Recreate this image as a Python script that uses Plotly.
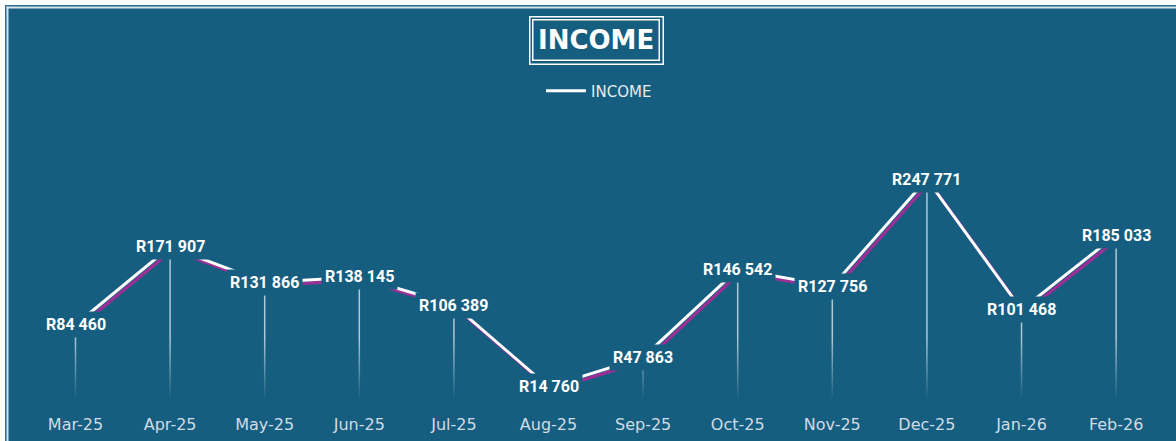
import plotly.graph_objects as go

months = ["Mar-25", "Apr-25", "May-25", "Jun-25", "Jul-25", "Aug-25",
          "Sep-25", "Oct-25", "Nov-25", "Dec-25", "Jan-26", "Feb-26"]
income = [84460, 171907, 131866, 138145, 106389, 14760,
          47863, 146542, 127756, 247771, 101468, 185033]
labels = ["R" + f"{v:,}".replace(",", " ") for v in income]

BLUE = "#165e80"
PURPLE = "#9c2f96"

X_RANGE = [-0.703, 11.633]
Y_RANGE = [0, 438800]
DXU = 0.027    # shadow offset (~2.5px) in category units
DYU = 3400     # shadow offset (~3px) in value units

fig = go.Figure()

# drop lines
fig.add_trace(go.Scatter(
    x=months, y=income, mode="markers",
    marker=dict(size=1, color="rgba(0,0,0,0)"),
    error_y=dict(type="data", symmetric=False, array=[0] * len(income),
                 arrayminus=income, color="rgba(225,236,243,0.75)",
                 thickness=1.5, width=0),
    showlegend=False, hoverinfo="skip"))

# fade band at the bottom of the drop lines
fig.add_trace(go.Scatter(
    x=[X_RANGE[0], X_RANGE[1], X_RANGE[1], X_RANGE[0], X_RANGE[0]],
    y=[0, 0, 70000, 70000, 0], mode="lines", line=dict(width=0),
    fill="toself",
    fillgradient=dict(type="vertical",
                      colorscale=[[0, "rgba(22,94,128,1)"], [1, "rgba(22,94,128,0)"]]),
    xaxis="x2", yaxis="y", showlegend=False, hoverinfo="skip"))

# purple shadow
fig.add_trace(go.Scatter(
    x=months, y=income, mode="lines", line=dict(color=PURPLE, width=3.2),
    xaxis="x3", yaxis="y3", showlegend=False, hoverinfo="skip"))

# white line
fig.add_trace(go.Scatter(
    x=months, y=income, mode="lines", name="INCOME",
    line=dict(color="white", width=3),
    xaxis="x4", yaxis="y4"))

annotations = []
for m, v, t in zip(months, income, labels):
    annotations.append(dict(
        x=m, y=v, xref="x", yref="y", text=t, showarrow=False,
        xanchor="center", yanchor="middle",
        font=dict(family="Roboto", size=16, color="white", weight="bold"),
        bgcolor=BLUE, borderpad=3))

# title with double border
annotations.append(dict(
    x=0.503, y=0.9207, xref="paper", yref="paper", text="INCOME",
    showarrow=False, xanchor="center", yanchor="middle",
    font=dict(family="DejaVu Sans", size=26, color="rgba(0,0,0,0)", weight="bold"),
    bordercolor="white", borderwidth=1.5, borderpad=8))
annotations.append(dict(
    x=0.503, y=0.9207, xref="paper", yref="paper", text="INCOME",
    showarrow=False, xanchor="center", yanchor="middle",
    font=dict(family="DejaVu Sans", size=26, color="white", weight="bold"),
    bordercolor="white", borderwidth=1.5, borderpad=4.5))


def strips(outer, inner, color):
    base = dict(type="rect", xref="paper", yref="paper",
                xsizemode="pixel", ysizemode="pixel", xanchor=0, yanchor=1,
                fillcolor=color, line=dict(width=0), layer="below")
    top = dict(base, x0=-outer, x1=1167, y0=outer, y1=inner)
    left = dict(base, x0=-outer, x1=-inner, y0=outer, y1=-432)
    return [top, left]


shapes = (strips(9, 4, "white") + strips(4, 2.5, "#2a6f8f")
          + strips(2.5, 0.5, "#d9e4ea"))

hidden = dict(visible=False, showgrid=False, zeroline=False)

fig.update_layout(
    width=1176, height=441,
    margin=dict(l=9, r=0, t=9, b=41),
    paper_bgcolor=BLUE, plot_bgcolor="rgba(0,0,0,0)",
    xaxis=dict(type="category", categoryarray=months, range=X_RANGE,
               showgrid=False, zeroline=False, showline=False,
               ticks="outside", ticklen=10, tickcolor="rgba(0,0,0,0)",
               tickfont=dict(family="DejaVu Sans", size=16, color="#cfdce5")),
    yaxis=dict(range=Y_RANGE, **hidden),
    xaxis2=dict(type="linear", overlaying="x", range=X_RANGE, **hidden),
    xaxis3=dict(type="category", categoryarray=months, overlaying="x",
                range=[X_RANGE[0] - DXU, X_RANGE[1] - DXU], **hidden),
    yaxis3=dict(overlaying="y", range=[Y_RANGE[0] + DYU, Y_RANGE[1] + DYU], **hidden),
    xaxis4=dict(type="category", categoryarray=months, overlaying="x",
                range=X_RANGE, **hidden),
    yaxis4=dict(overlaying="y", range=Y_RANGE, **hidden),
    showlegend=True,
    legend=dict(orientation="h", x=0.5056, y=0.79, xanchor="center", yanchor="middle",
                bgcolor="rgba(0,0,0,0)", itemwidth=40,
                font=dict(family="DejaVu Sans", size=15, color="#e3ebf0")),
    annotations=annotations, shapes=shapes,
)

fig.write_html("out.html")
